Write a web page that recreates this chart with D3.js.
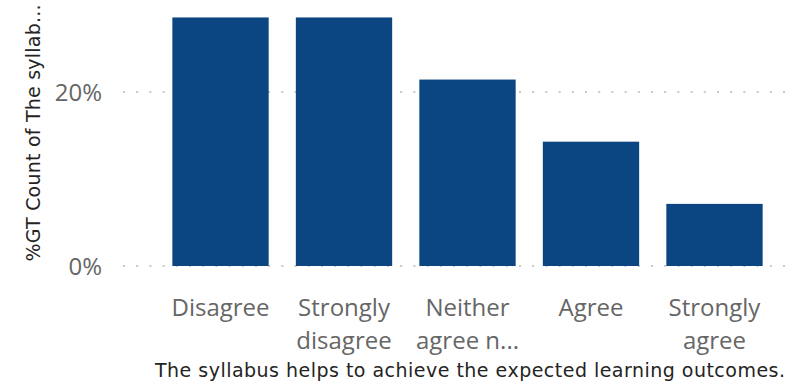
<!DOCTYPE html>
<html><head><meta charset="utf-8">
<script src="https://cdn.jsdelivr.net/npm/d3@7"></script>
<style>body{margin:0;background:#fff}svg{display:block}</style>
</head><body><svg id="c" width="797" height="385"></svg>
<script>
const categories = ["Disagree","Strongly disagree","Neither agree nor disagree","Agree","Strongly agree"];
const tickLabels = [["Disagree"],["Strongly","disagree"],["Neither","agree n..."],["Agree"],["Strongly","agree"]];
const values = [28.57,28.57,21.43,14.29,7.14];
const yTicks = [0,20];
const xTitle = "The syllabus helps to achieve the expected learning outcomes.";
const yTitle = "%GT Count of The syllab...";

const svg = d3.select("#c");
const x = d3.scaleBand().domain(categories).range([160,775]).paddingInner(0.22).paddingOuter(0.1);
const y = d3.scaleLinear().domain([0,20]).range([266,92]);

// gridlines
svg.append("g").selectAll("line").data(yTicks).join("line")
  .attr("x1",123).attr("x2",790).attr("y1",d=>y(d)).attr("y2",d=>y(d))
  .attr("stroke","#c8c8c8").attr("stroke-width",2).attr("stroke-dasharray","2,11.2");

// y tick labels
svg.append("g").selectAll("text").data(yTicks).join("text")
  .attr("x",102).attr("y",d=>y(d)).attr("dy","0.36em").attr("text-anchor","end")
  .attr("font-family","'Segoe UI','Open Sans',sans-serif").attr("font-size",24).attr("fill","#666")
  .text(d=>d+"%");

// bars
svg.append("g").selectAll("rect").data(values).join("rect")
  .attr("x",(d,i)=>x(categories[i])).attr("width",x.bandwidth())
  .attr("y",d=>y(d)).attr("height",d=>y(0)-y(d)).attr("fill","#0b4682");

// x tick labels
const xl = svg.append("g").selectAll("text").data(tickLabels).join("text")
  .attr("text-anchor","middle")
  .attr("font-family","'Segoe UI','Open Sans',sans-serif").attr("font-size",24).attr("fill","#666")
  .attr("transform",(d,i)=>`translate(${x(categories[i])+x.bandwidth()/2},316)`);
xl.selectAll("tspan").data(d=>d).join("tspan").attr("x",0).attr("dy",(d,j)=>j?33:0).text(d=>d);

// axis titles
svg.append("text").attr("x",470).attr("y",377).attr("text-anchor","middle")
  .attr("font-family","'DejaVu Sans',sans-serif").attr("font-size",19).attr("fill","#252423")
  .attr("textLength",630).attr("lengthAdjust","spacing").text(xTitle);
svg.append("text").attr("transform","translate(40,133) rotate(-90)").attr("text-anchor","middle")
  .attr("font-family","'DejaVu Sans',sans-serif").attr("font-size",19).attr("fill","#252423")
  .attr("textLength",257).attr("lengthAdjust","spacing").text(yTitle);
</script></body></html>
